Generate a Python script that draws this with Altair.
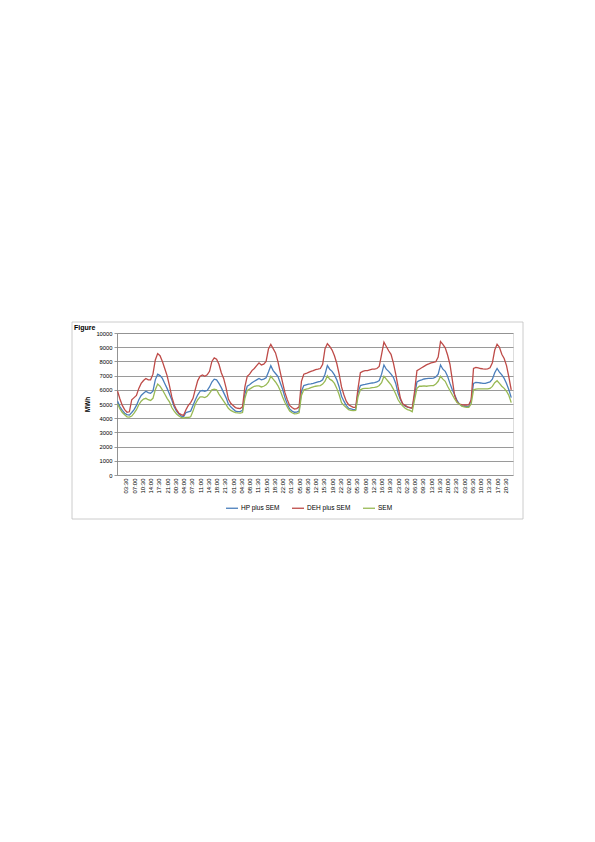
import json
import altair as alt
import pandas as pd

# ---- data (hourly readings, 7 days) ----
hours = list(range(168))

hp_plus_sem = [
    5200, 4800, 4550, 4350, 4250, 4220, 4400, 4600, 4900, 5300, 5600, 5750, 5900, 5800, 5750, 5900, 6700, 7100, 7000, 6800, 6450, 6100, 5700, 5300,
    4800, 4500, 4300, 4150, 4100, 4400, 4450, 4500, 4900, 5300, 5650, 5900, 5950, 5900, 5950, 6200, 6550, 6750, 6700, 6450, 6150, 5800, 5450, 5000,
    4800, 4650, 4500, 4460, 4460, 4550, 5700, 6250, 6350, 6500, 6600, 6700, 6800, 6700, 6750, 6850, 7250, 7700, 7350, 7150, 6950, 6500, 6050, 5450,
    5000, 4650, 4500, 4420, 4430, 4500, 5900, 6300, 6350, 6400, 6420, 6450, 6500, 6550, 6600, 6700, 7100, 7700, 7450, 7300, 7050, 6700, 6200, 5550,
    5200, 4900, 4700, 4650, 4600, 4620, 5800, 6300, 6350, 6380, 6420, 6450, 6480, 6500, 6550, 6650, 7100, 7750, 7450, 7300, 7100, 6880, 6450, 5750,
    5300, 5000, 4850, 4780, 4750, 4700, 5600, 6550, 6650, 6700, 6760, 6780, 6800, 6810, 6820, 6900, 7100, 7750, 7450, 7300, 6950, 6450, 6000, 5650,
    5250, 5000, 4880, 4840, 4830, 4830, 5250, 6450, 6520, 6500, 6480, 6450, 6450, 6500, 6550, 6750, 7200, 7500, 7250, 7050, 6800, 6450, 6000, 5450,
]

deh_plus_sem = [
    5900, 5350, 4900, 4600, 4420, 4450, 5300, 5450, 5600, 6100, 6450, 6650, 6800, 6700, 6700, 7100, 8100, 8550, 8400, 8000, 7500, 7000, 6300, 5500,
    4950, 4600, 4350, 4250, 4200, 4600, 4900, 5100, 5400, 6050, 6650, 6950, 7050, 6950, 7050, 7300, 8000, 8250, 8150, 7800, 7200, 6800, 6150, 5350,
    5050, 4900, 4750, 4700, 4680, 4800, 6200, 6950, 7100, 7350, 7500, 7700, 7900, 7750, 7800, 8000, 8870, 9200, 8900, 8600, 8000, 7250, 6500, 5800,
    5300, 4900, 4750, 4650, 4680, 4800, 6600, 7100, 7150, 7230, 7300, 7350, 7420, 7450, 7500, 7800, 8900, 9250, 9050, 8800, 8400, 7850, 7100, 6200,
    5650, 5200, 4950, 4850, 4760, 4770, 6100, 7200, 7300, 7350, 7350, 7400, 7450, 7450, 7500, 7650, 8500, 9350, 9050, 8750, 8500, 7900, 7100, 6200,
    5400, 5000, 4900, 4800, 4750, 4700, 5900, 7350, 7450, 7550, 7650, 7750, 7820, 7900, 7930, 7980, 8300, 9400, 9200, 8950, 8450, 7800, 6700, 5600,
    5150, 5000, 4950, 4930, 4930, 4950, 5300, 7500, 7580, 7550, 7500, 7470, 7460, 7480, 7550, 7900, 8800, 9200, 9000, 8500, 8200, 7700, 6900, 6000,
]

sem = [
    5000, 4650, 4400, 4250, 4100, 4080, 4150, 4350, 4600, 4950, 5200, 5350, 5400, 5300, 5250, 5400, 6000, 6400, 6250, 6000, 5700, 5400, 5150, 4750,
    4500, 4300, 4150, 4050, 4000, 4050, 4050, 4100, 4500, 5000, 5300, 5500, 5500, 5450, 5550, 5750, 6000, 6050, 6000, 5700, 5450, 5200, 4950, 4700,
    4550, 4460, 4400, 4370, 4360, 4400, 5400, 5950, 6050, 6150, 6250, 6280, 6280, 6200, 6250, 6350, 6550, 6950, 6750, 6550, 6300, 5950, 5500, 5100,
    4800, 4500, 4380, 4300, 4320, 4380, 5600, 6000, 6050, 6080, 6150, 6200, 6250, 6280, 6300, 6400, 6600, 6980, 6750, 6650, 6450, 6100, 5650, 5100,
    4900, 4750, 4600, 4550, 4530, 4550, 5500, 6000, 6080, 6100, 6100, 6120, 6150, 6170, 6200, 6300, 6500, 6950, 6750, 6550, 6350, 6050, 5700, 5300,
    5050, 4850, 4700, 4600, 4550, 4460, 5300, 6100, 6250, 6250, 6270, 6250, 6270, 6290, 6300, 6400, 6600, 6950, 6750, 6600, 6250, 5950, 5650, 5350,
    5100, 5000, 4850, 4800, 4770, 4760, 5000, 6000, 6050, 6060, 6060, 6060, 6060, 6060, 6100, 6240, 6500, 6640, 6450, 6250, 6100, 5900, 5600, 5100,
]

series_names = ["HP plus SEM", "DEH plus SEM", "SEM"]
series_colors = ["#4A7EBB", "#BE4B48", "#98B954"]

tick_labels = [
    "03:30", "07:00", "10:30", "14:00", "17:30", "21:00", "00:30", "04:00", "07:30", "11:00",
    "14:30", "18:00", "21:30", "01:00", "04:30", "08:00", "11:30", "15:00", "18:30", "22:00",
    "01:30", "05:00", "08:30", "12:00", "15:30", "19:00", "22:30", "02:00", "05:30", "09:00",
    "12:30", "16:00", "19:30", "23:00", "02:30", "06:00", "09:30", "13:00", "16:30", "20:00",
    "23:30", "03:00", "06:30", "10:00", "13:30", "17:00", "20:30",
]
tick_values = [3.5 * (i + 1) for i in range(len(tick_labels))]
y_ticks = [0, 1000, 2000, 3000, 4000, 5000, 6000, 7000, 8000, 9000, 10000]

rows = []
for name, vals in zip(series_names, [hp_plus_sem, deh_plus_sem, sem]):
    for h, v in zip(hours, vals):
        rows.append({"hour": h, "MWh": v, "series": name})
df = pd.DataFrame(rows)

FONT = "Liberation Sans"
label_expr = json.dumps(tick_labels) + "[round(datum.value / 3.5) - 1]"

frame = alt.Chart(alt.Data(values=[{"f": 1}])).mark_rect(
    filled=False, stroke="#bfbfbf", strokeWidth=0.8
).encode(
    x=alt.value(-45), x2=alt.value(406), y=alt.value(-11), y2=alt.value(186)
)

lines = alt.Chart(df).mark_line(strokeWidth=1.3).encode(
    x=alt.X(
        "hour:Q",
        scale=alt.Scale(domain=[-0.25, 167.75], nice=False, zero=False),
        axis=alt.Axis(
            values=tick_values, labelExpr=label_expr, labelAngle=-90,
            labelFontSize=6, labelFont=FONT, labelColor="black",
            grid=False, domain=False, ticks=False, labelPadding=3,
            labelOverlap=False, title=None,
        ),
    ),
    y=alt.Y(
        "MWh:Q",
        scale=alt.Scale(domain=[0, 10000], nice=False),
        axis=alt.Axis(
            values=y_ticks, format="d", labelFontSize=5.8, labelFont=FONT,
            labelColor="black", grid=True, gridColor="#808080", gridWidth=0.8,
            domainColor="#808080", domainWidth=0.8, tickColor="#808080",
            tickWidth=0.8, tickSize=3, labelPadding=2, title="MWh",
            titleFont=FONT, titleFontSize=6.5, titleFontWeight="bold",
            titleColor="black", titlePadding=5,
        ),
    ),
    color=alt.Color(
        "series:N",
        scale=alt.Scale(domain=series_names, range=series_colors),
        legend=alt.Legend(
            orient="none", legendX=108, legendY=168, direction="horizontal",
            columns=3, title=None, symbolType="stroke", symbolSize=144,
            symbolStrokeWidth=1.3, labelFontSize=6.5, labelFont=FONT,
            labelColor="black", columnPadding=9, labelOffset=2,
        ),
    ),
    order=alt.Order("hour:Q"),
)

fig_text = alt.Chart(alt.Data(values=[{"t": "Figure"}])).mark_text(
    fontWeight="bold", fontSize=7, font=FONT, align="left",
    baseline="alphabetic", color="black"
).encode(text="t:N", x=alt.value(-43), y=alt.value(-3.5))

chart = alt.layer(frame, lines, fig_text).properties(
    width=396, height=142,
    padding={"left": 109, "top": 325, "right": 20, "bottom": 60},
    autosize=alt.AutoSizeParams(type="none"),
).configure_view(stroke=None).configure(background="white")

chart.save("out.html", embed_options={"renderer": "svg", "actions": False})
